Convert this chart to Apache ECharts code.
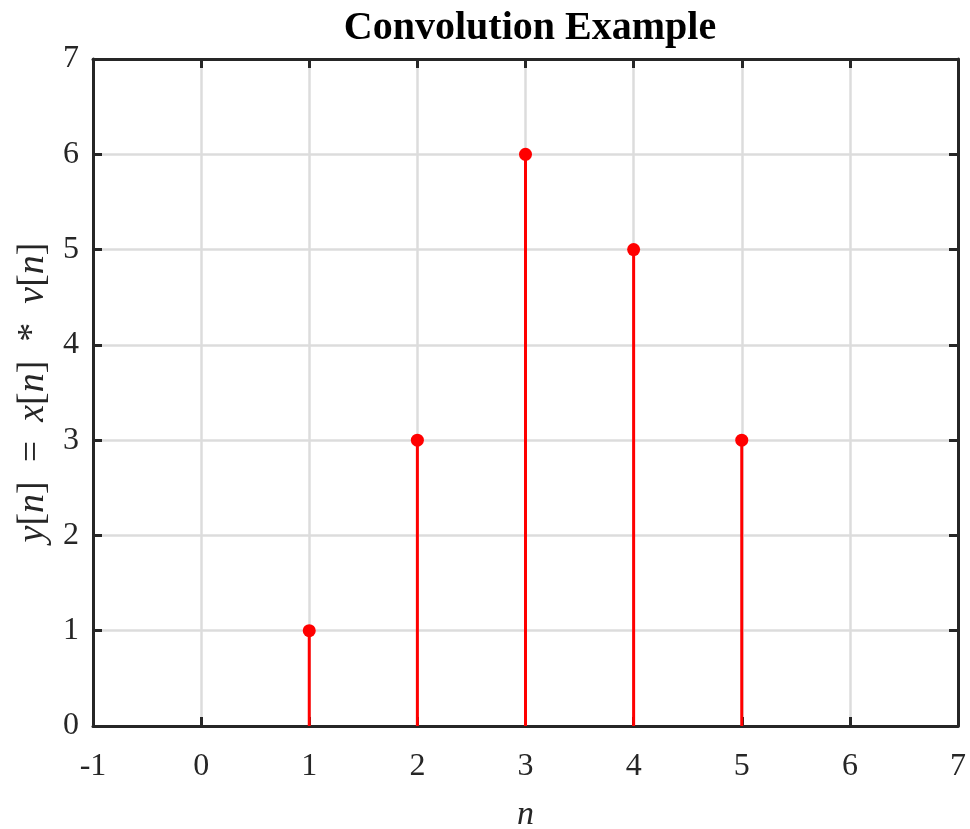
<!DOCTYPE html>
<html>
<head>
<meta charset="utf-8">
<script src="https://cdn.jsdelivr.net/npm/echarts@6/dist/echarts.min.js"></script>
<style>
  html, body { margin: 0; padding: 0; background: #fff; }
  #chart { width: 970px; height: 829px; }
</style>
</head>
<body>
<div id="chart"></div>
<script>
const nValues = [1, 2, 3, 4, 5];
const yValues = [1, 3, 6, 5, 3];
const xTicks = { min: -1, max: 7, step: 1 };
const yTicks = { min: 0, max: 7, step: 1 };

const points = nValues.map((n, i) => [n, yValues[i]]);

const axisColor = "#262626";
const font = "'Liberation Serif', 'DejaVu Serif', serif";

const chart = echarts.init(document.getElementById("chart"));

// top and right axes just close the box (ticks, no labels)
const frameAxis = {
  axisLine: { show: true, onZero: false, lineStyle: { color: axisColor, width: 3 } },
  axisTick: { show: true, inside: true, length: 9, lineStyle: { color: axisColor, width: 3 } },
  axisLabel: { show: false },
  splitLine: { show: false },
};

chart.setOption({
  backgroundColor: "#fff",
  animation: false,
  title: {
    text: "Convolution Example",
    left: 525,
    textAlign: "center",
    top: 4,
    textStyle: { fontFamily: font, fontSize: 40, fontWeight: "bold", color: "#000" },
  },
  grid: { left: 93, right: 12, top: 59, bottom: 103, outerBoundsMode: "none", containLabel: false },
  xAxis: [
    {
      type: "value",
      min: xTicks.min,
      max: xTicks.max,
      interval: xTicks.step,
      position: "bottom",
      name: "n",
      nameLocation: "middle",
      nameGap: 72,
      nameTextStyle: { fontFamily: font, fontSize: 34, fontStyle: "italic", color: "#262626" },
      axisLine: { show: true, onZero: false, lineStyle: { color: axisColor, width: 3 } },
      axisTick: { show: true, inside: true, length: 9, lineStyle: { color: axisColor, width: 3 } },
      axisLabel: { fontFamily: font, fontSize: 32, color: "#262626", margin: 25 },
      splitLine: { show: true, lineStyle: { color: "#dcdcdc", width: 2.5 } },
    },
    Object.assign({ type: "value", min: xTicks.min, max: xTicks.max, interval: xTicks.step, position: "top" }, frameAxis),
  ],
  yAxis: [
    {
      type: "value",
      min: yTicks.min,
      max: yTicks.max,
      interval: yTicks.step,
      position: "left",
      name: "{i|y}[{i|n}]  =  {i|x}[{i|n}]  *  {i|v}[{i|n}]",
      nameLocation: "middle",
      nameGap: 40,
      nameTextStyle: {
        fontFamily: font,
        fontSize: 38,
        color: "#262626",
        rich: { i: { fontFamily: font, fontSize: 38, fontStyle: "italic", color: "#262626" } },
      },
      axisLine: { show: true, onZero: false, lineStyle: { color: axisColor, width: 3 } },
      axisTick: { show: true, inside: true, length: 9, lineStyle: { color: axisColor, width: 3 } },
      axisLabel: { fontFamily: font, fontSize: 32, color: "#262626", margin: 14 },
      splitLine: { show: true, lineStyle: { color: "#dcdcdc", width: 2.5 } },
    },
    Object.assign({ type: "value", min: yTicks.min, max: yTicks.max, interval: yTicks.step, position: "right" }, frameAxis),
  ],
  series: [
    {
      type: "bar",
      data: points,
      barWidth: 3,
      itemStyle: { color: "#ff0000" },
      z: 3,
    },
    {
      type: "scatter",
      data: points,
      symbol: "circle",
      symbolSize: 13,
      itemStyle: { color: "#ff0000", opacity: 1 },
      z: 4,
    },
  ],
});
</script>
</body>
</html>
